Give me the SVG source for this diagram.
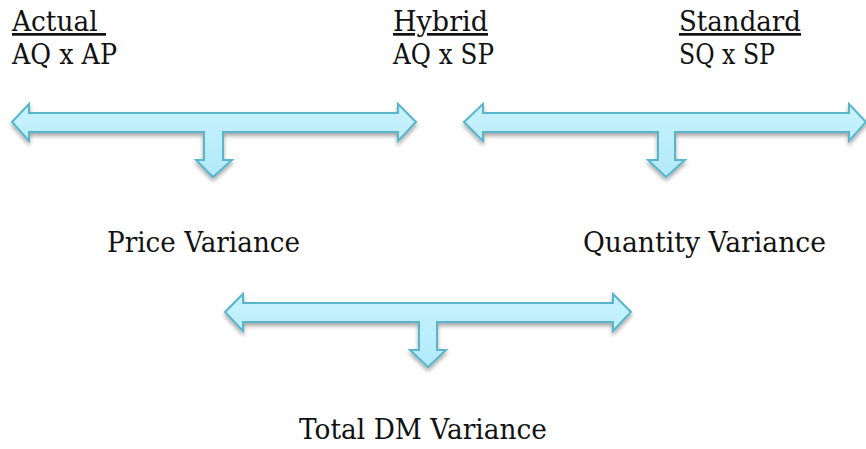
<svg xmlns="http://www.w3.org/2000/svg" width="866" height="449" viewBox="0 0 866 449">
<style>
text{font-family:"DejaVu Serif","Liberation Serif",serif;font-size:27px;fill:#111;white-space:pre}
.u{text-decoration:underline}
.arr{fill:url(#g);stroke:#5ab4cb;stroke-width:2;stroke-linejoin:miter;filter:url(#sh)}
</style>
<defs>
<linearGradient id="g" x1="0" y1="0" x2="0" y2="1">
<stop offset="0" stop-color="#c8f2fd"/>
<stop offset="1" stop-color="#b2eaf9"/>
</linearGradient>
<filter id="sh" x="-5%" y="-20%" width="110%" height="150%">
<feGaussianBlur in="SourceAlpha" stdDeviation="2"/>
<feOffset dx="0" dy="3" result="b"/>
<feComponentTransfer><feFuncA type="linear" slope="0.35"/></feComponentTransfer>
<feMerge><feMergeNode/><feMergeNode in="SourceGraphic"/></feMerge>
</filter>
</defs>
<g id="labels">
<g id="actual"><text x="12" y="31" class="u" textLength="94" lengthAdjust="spacingAndGlyphs">Actual </text><text x="12" y="64" textLength="105" lengthAdjust="spacingAndGlyphs">AQ x AP</text></g>
<g id="hybrid"><text x="393" y="31" class="u" textLength="95" lengthAdjust="spacingAndGlyphs">Hybrid</text><text x="393" y="64" textLength="101" lengthAdjust="spacingAndGlyphs">AQ x SP</text></g>
<g id="standard"><text x="679" y="31" class="u" textLength="122" lengthAdjust="spacingAndGlyphs">Standard</text><text x="679" y="64" textLength="96" lengthAdjust="spacingAndGlyphs">SQ x SP</text></g>
<g id="price"><text x="107" y="252" textLength="193" lengthAdjust="spacingAndGlyphs">Price Variance</text></g>
<g id="quantity"><text x="583" y="252" textLength="243" lengthAdjust="spacingAndGlyphs">Quantity Variance</text></g>
<g id="total"><text x="299" y="439" textLength="248" lengthAdjust="spacingAndGlyphs">Total DM Variance</text></g>
</g>
<g id="connectors">
<path class="arr" d="M12,122 L29,104 L29,113 L398,113 L398,104 L416,122 L398,141 L398,132 L223,132 L223,160 L232,160 L213,177 L196,160 L204,160 L204,132 L29,132 L29,141 Z"/>
<path class="arr" d="M464,122 L483,104 L483,113 L849,113 L849,104 L866,122 L849,141 L849,132 L675,132 L675,160 L685,160 L666,177 L648,160 L658,160 L658,132 L483,132 L483,141 Z"/>
<path class="arr" d="M225,312 L243,294 L243,303 L613,303 L613,294 L631,312 L613,331 L613,322 L437,322 L437,350 L446,350 L428,367 L410,350 L419,350 L419,322 L243,322 L243,331 Z"/>
</g>
</svg>
